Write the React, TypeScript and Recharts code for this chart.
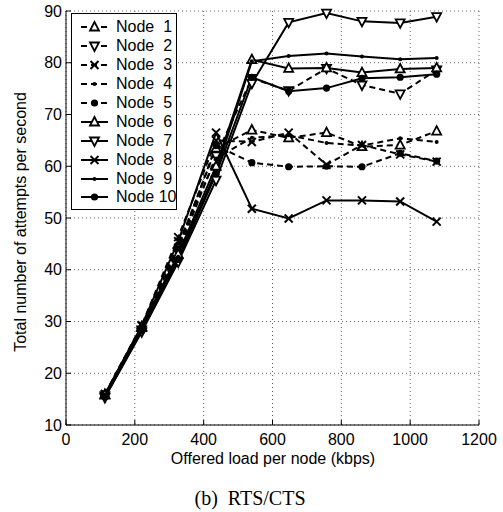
import { LineChart, Line, XAxis, YAxis, CartesianGrid } from 'recharts'

// offered load (kbps) at each measured point
const loadKbps = [113, 220, 326, 436, 540, 647, 757, 860, 971, 1077]

// attempts per second, one list per node
const node1 = [15.8, 28.8, 44.5, 63.5, 67.0, 65.5, 66.5, 63.8, 64.1, 66.8]
const node2 = [15.6, 28.4, 43.5, 62.0, 77.0, 74.6, 78.9, 75.7, 74.0, 78.6]
const node3 = [16.0, 29.3, 46.3, 65.0, 64.7, 66.5, 60.3, 64.1, 62.3, 60.9]
const node4 = [15.7, 28.9, 45.0, 61.5, 65.5, 66.0, 64.5, 64.0, 65.4, 64.7]
const node5 = [15.5, 28.6, 44.0, 64.0, 60.7, 59.9, 60.0, 59.9, 62.5, 61.0]
const node6 = [15.9, 29.0, 43.0, 60.0, 80.6, 78.9, 79.0, 78.1, 78.8, 79.0]
const node7 = [15.3, 28.0, 41.5, 57.3, 76.0, 87.8, 89.6, 88.0, 87.7, 88.9]
const node8 = [15.9, 29.2, 45.5, 66.5, 51.8, 49.9, 53.4, 53.4, 53.2, 49.3]
const node9 = [15.6, 28.5, 42.5, 59.0, 80.3, 81.3, 81.8, 81.2, 80.7, 80.9]
const node10 = [15.4, 28.2, 42.0, 58.5, 77.2, 74.5, 75.1, 77.0, 77.2, 77.8]

const xTicks = [0, 200, 400, 600, 800, 1000, 1200]
const yTicks = [10, 20, 30, 40, 50, 60, 70, 80, 90]

type Shape = 'up' | 'down' | 'x' | 'dot' | 'circle'

const series: { key: string; name: string; values: number[]; shape: Shape; dashed: boolean }[] = [
  { key: 'n1', name: 'Node  1', values: node1, shape: 'up', dashed: true },
  { key: 'n2', name: 'Node  2', values: node2, shape: 'down', dashed: true },
  { key: 'n3', name: 'Node  3', values: node3, shape: 'x', dashed: true },
  { key: 'n4', name: 'Node  4', values: node4, shape: 'dot', dashed: true },
  { key: 'n5', name: 'Node  5', values: node5, shape: 'circle', dashed: true },
  { key: 'n6', name: 'Node  6', values: node6, shape: 'up', dashed: false },
  { key: 'n7', name: 'Node  7', values: node7, shape: 'down', dashed: false },
  { key: 'n8', name: 'Node  8', values: node8, shape: 'x', dashed: false },
  { key: 'n9', name: 'Node  9', values: node9, shape: 'dot', dashed: false },
  { key: 'n10', name: 'Node 10', values: node10, shape: 'circle', dashed: false },
]

const data = loadKbps.map((x, i) => {
  const row: Record<string, number> = { x }
  series.forEach((s) => {
    row[s.key] = s.values[i]
  })
  return row
})

const SANS = '"Liberation Sans", Arial, Helvetica, sans-serif'
const DASH = '6 4'
const tickFont = { fontSize: 16, fill: '#000', fontFamily: SANS }

function Marker({ cx, cy, shape }: { cx: number; cy: number; shape: Shape }) {
  if (cx == null || cy == null) return null
  switch (shape) {
    case 'up':
      return (
        <polygon
          points={`${cx},${cy - 5} ${cx - 4.5},${cy + 3.5} ${cx + 4.5},${cy + 3.5}`}
          fill="#fff"
          stroke="#000"
          strokeWidth={1.8}
        />
      )
    case 'down':
      return (
        <polygon
          points={`${cx},${cy + 5} ${cx - 4.5},${cy - 3.5} ${cx + 4.5},${cy - 3.5}`}
          fill="#fff"
          stroke="#000"
          strokeWidth={1.8}
        />
      )
    case 'x':
      return (
        <g stroke="#000" strokeWidth={2}>
          <line x1={cx - 4} y1={cy - 4} x2={cx + 4} y2={cy + 4} />
          <line x1={cx - 4} y1={cy + 4} x2={cx + 4} y2={cy - 4} />
        </g>
      )
    case 'dot':
      return <circle cx={cx} cy={cy} r={2} fill="#000" />
    default:
      return <circle cx={cx} cy={cy} r={3.6} fill="#000" />
  }
}

function LegendBox() {
  return (
    <div
      style={{
        position: 'absolute',
        left: 71,
        top: 13,
        width: 104,
        height: 191,
        border: '1.5px solid #000',
        background: '#fff',
        paddingTop: 4,
        fontFamily: SANS,
        fontSize: 16,
        color: '#000',
      }}
    >
      {series.map((s) => (
        <div key={s.key} style={{ display: 'flex', alignItems: 'center', height: 18.9 }}>
          <svg width={44} height={18} style={{ flex: 'none' }}>
            <line
              x1={9}
              y1={9}
              x2={36}
              y2={9}
              stroke="#000"
              strokeWidth={2}
              strokeDasharray={s.dashed ? DASH : undefined}
            />
            <Marker cx={22.5} cy={9} shape={s.shape} />
          </svg>
          <span style={{ whiteSpace: 'pre', lineHeight: '18px' }}>{s.name}</span>
        </div>
      ))}
    </div>
  )
}

export default function App() {
  return (
    <div style={{ position: 'absolute', left: 0, top: 0, width: 503, height: 512, background: '#fff' }}>
      <LineChart width={503} height={512} data={data} margin={{ top: 11, right: 24, bottom: 0, left: 0 }}>
        <CartesianGrid stroke="#666" strokeDasharray="1 3" />
        <XAxis
          type="number"
          dataKey="x"
          domain={[0, 1200]}
          ticks={xTicks}
          height={87}
          tickSize={-5}
          tickMargin={14}
          tickLine={{ stroke: '#000' }}
          axisLine={{ stroke: '#000' }}
          tick={tickFont}
        />
        <XAxis
          xAxisId="top"
          orientation="top"
          type="number"
          dataKey="x"
          domain={[0, 1200]}
          ticks={xTicks}
          height={0}
          mirror
          tickSize={5}
          tick={false}
          tickLine={{ stroke: '#000' }}
          axisLine={{ stroke: '#000' }}
        />
        <YAxis
          domain={[10, 90]}
          ticks={yTicks}
          width={66}
          tickSize={-5}
          tickMargin={9}
          tickLine={{ stroke: '#000' }}
          axisLine={{ stroke: '#000' }}
          tick={tickFont}
        />
        <YAxis
          yAxisId="right"
          orientation="right"
          domain={[10, 90]}
          ticks={yTicks}
          width={0}
          mirror
          tickSize={5}
          tick={false}
          tickLine={{ stroke: '#000' }}
          axisLine={{ stroke: '#000' }}
        />
        {series.map((s) => (
          <Line
            key={s.key}
            type="linear"
            dataKey={s.key}
            name={s.name}
            stroke="#000"
            strokeWidth={2}
            strokeDasharray={s.dashed ? DASH : undefined}
            isAnimationActive={false}
            activeDot={false}
            dot={(p: { cx: number; cy: number; index: number }) => (
              <g key={`${s.key}-${p.index}`}>
                <Marker cx={p.cx} cy={p.cy} shape={s.shape} />
              </g>
            )}
          />
        ))}
      </LineChart>
      <LegendBox />
      <div
        style={{
          position: 'absolute',
          left: 0,
          width: 546,
          top: 450,
          textAlign: 'center',
          fontFamily: SANS,
          fontSize: 16,
        }}
      >
        Offered load per node (kbps)
      </div>
      <div
        style={{
          position: 'absolute',
          left: 21,
          top: 222,
          transform: 'translate(-50%, -50%) rotate(-90deg)',
          whiteSpace: 'nowrap',
          fontFamily: SANS,
          fontSize: 16,
        }}
      >
        Total number of attempts per second
      </div>
      <div
        style={{
          position: 'absolute',
          left: 0,
          width: 500,
          top: 487,
          textAlign: 'center',
          fontFamily: '"Liberation Serif", "Times New Roman", serif',
          fontSize: 20,
          whiteSpace: 'pre',
        }}
      >
        (b)  RTS/CTS
      </div>
    </div>
  )
}
